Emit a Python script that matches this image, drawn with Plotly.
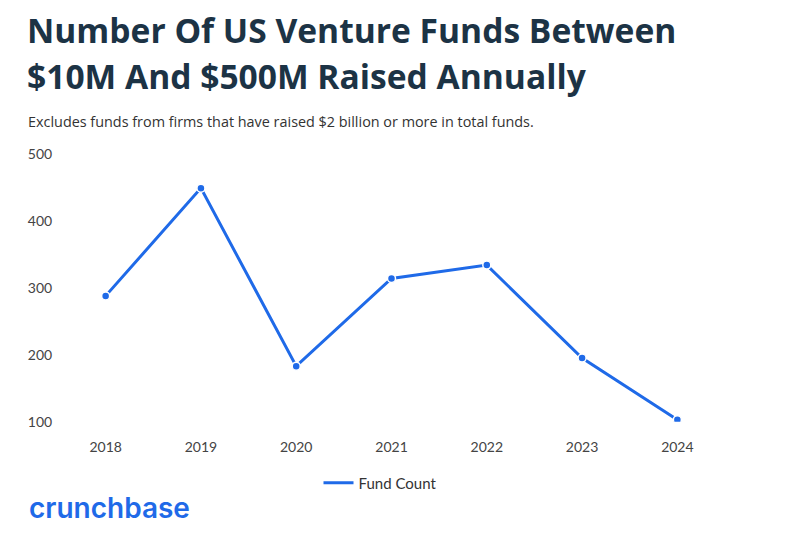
import plotly.graph_objects as go

years = [2018, 2019, 2020, 2021, 2022, 2023, 2024]
fund_count = [288, 449, 183, 314, 334, 195, 103]
y_ticks = [100, 200, 300, 400, 500]
series_name = "Fund Count"
title_lines = ["Number Of US Venture Funds Between", "$10M And $500M Raised Annually"]
subtitle_text = "Excludes funds from firms that have raised $2 billion or more in total funds."
brand_text = "crunchbase"

BLUE = "#1f6ae8"
NAVY = "#1c3345"

# page has an 8px body margin; work in screen pixels and convert
OFF = 8
W, H = 800, 549
ML, MT, MR, MB = 50, 146, 83, 133
PW = W - ML - MR
PH = H - MT - MB


def dom(sx, sy):
    fx, fy = sx - OFF, sy - OFF
    return (fx - ML) / PW, (H - MB - fy) / PH


fig = go.Figure()
fig.add_trace(go.Scatter(
    x=years, y=fund_count, name=series_name, mode="lines",
    line=dict(color=BLUE, width=3), showlegend=True,
))
fig.add_trace(go.Scatter(
    x=years, y=fund_count, name=series_name, mode="markers",
    marker=dict(color=BLUE, size=8, line=dict(color="white", width=1.5)),
    showlegend=False, hoverinfo="skip",
))

fig.update_layout(
    width=W, height=H,
    margin=dict(l=ML, r=MR, t=MT, b=MB),
    paper_bgcolor="white", plot_bgcolor="white",
    font=dict(family="Lato", color="#444444", size=14),
    showlegend=True,
    legend=dict(orientation="h", xref="container", yref="container",
                x=(380 - OFF) / W, y=1 - (483 - OFF) / H,
                xanchor="center", yanchor="middle",
                font=dict(size=15, color="#333333", family="Lato")),
    xaxis=dict(range=[2017.5, 2024.5], tickmode="array", tickvals=years,
               ticktext=[str(y) for y in years], showgrid=False, zeroline=False,
               showline=False, ticks="outside", ticklen=12, tickcolor="white",
               tickfont=dict(size=14, color="#444444")),
    yaxis=dict(range=[100, 500], tickmode="array", tickvals=y_ticks,
               showgrid=False, zeroline=False, showline=False,
               ticks="outside", ticklen=2, tickcolor="white",
               tickfont=dict(size=14, color="#444444")),
)

for line_text, cy in zip(title_lines, [29, 75]):
    x, y = dom(25, cy)
    fig.add_annotation(text=line_text, xref="paper", yref="paper",
                       x=x, y=y, xanchor="left", yanchor="middle",
                       align="left", showarrow=False,
                       font=dict(family="Open Sans", size=33.6, color=NAVY, weight=700))

x, y = dom(26, 121)
fig.add_annotation(text=subtitle_text, xref="paper", yref="paper",
                   x=x, y=y, xanchor="left", yanchor="middle",
                   align="left", showarrow=False,
                   font=dict(family="Open Sans", size=14.4, color="#333333"))

x, y = dom(27, 511)
fig.add_annotation(text=brand_text, xref="paper", yref="paper",
                   x=x, y=y, xanchor="left", yanchor="middle",
                   align="left", showarrow=False,
                   font=dict(family="Inter", size=28, color=BLUE, weight=600))

fig.write_html("out.html")
